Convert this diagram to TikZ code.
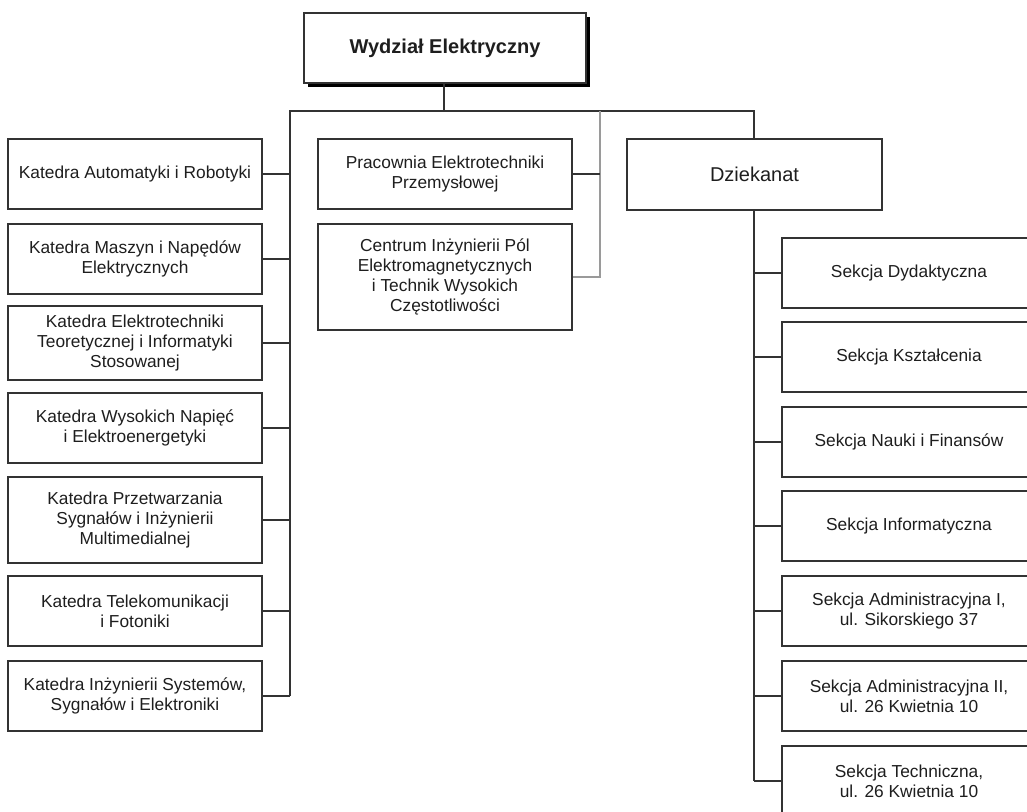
\documentclass[tikz,border=0pt]{standalone}
\usepackage{fontspec}
\setmainfont{Liberation Sans}
\definecolor{linec}{HTML}{333333}
\definecolor{textc}{HTML}{1E1E1E}
\definecolor{greyc}{HTML}{9A9A9A}
\begin{document}
\begin{tikzpicture}[x=0.75pt,y=-0.75pt,
  box/.style={draw=linec,line width=1pt,fill=white,rectangle,inner sep=2pt,align=center,
    text=textc,font=\fontsize{13}{15}\selectfont},
  lbox/.style={box,minimum width=254*0.75pt,minimum height=70*0.75pt},
  rbox/.style={box,minimum width=254*0.75pt,minimum height=70*0.75pt},
  conn/.style={draw=linec,line width=1pt},
  gconn/.style={draw=greyc,line width=1pt}]
\clip (0,0) rectangle (1027,811);
\fill[white] (0,0) rectangle (1027,811);

% top
\fill[black] (308,17) rectangle (590,87);
\node[box,minimum width=282*0.75pt,minimum height=70*0.75pt,font=\fontsize{15}{18}\bfseries\selectfont] (top) at (445,48) {Wydział Elektryczny};

% bus coordinates
\coordinate (bl) at (290,111);
\coordinate (bm) at (444,111);
\coordinate (bg) at (600,111);
\coordinate (br) at (754,111);

% left column
\node[lbox] (l1) at (135,174) {Katedra Automatyki i Robotyki};
\node[lbox] (l2) at (135,259) {Katedra Maszyn i Napędów\\Elektrycznych};
\node[lbox,minimum height=74*0.75pt] (l3) at (135,343) {Katedra Elektrotechniki\\Teoretycznej i Informatyki\\Stosowanej};
\node[lbox] (l4) at (135,428) {Katedra Wysokich Napięć\\i Elektroenergetyki};
\node[lbox,minimum height=86*0.75pt] (l5) at (135,520) {Katedra Przetwarzania\\Sygnałów i Inżynierii\\Multimedialnej};
\node[lbox] (l6) at (135,611) {Katedra Telekomunikacji\\i Fotoniki};
\node[lbox] (l7) at (135,696) {Katedra Inżynierii Systemów,\\Sygnałów i Elektroniki};

% middle
\node[lbox] (m1) at (445,174) {Pracownia Elektrotechniki\\Przemysłowej};
\node[lbox,minimum height=106*0.75pt] (m2) at (445,277) {Centrum Inżynierii Pól\\Elektromagnetycznych\\i Technik Wysokich\\Częstotliwości};

% dziekanat
\node[box,minimum width=255*0.75pt,minimum height=71*0.75pt,font=\fontsize{15}{18}\selectfont] (dz) at (754.5,174.5) {Dziekanat};

% right column
\node[rbox] (r1) at (909,273) {Sekcja Dydaktyczna};
\node[rbox] (r2) at (909,357) {Sekcja Kształcenia};
\node[rbox] (r3) at (909,442) {Sekcja Nauki i Finansów};
\node[rbox] (r4) at (909,526) {Sekcja Informatyczna};
\node[rbox] (r5) at (909,611) {Sekcja Administracyjna I,\\ul. Sikorskiego 37};
\node[rbox] (r6) at (909,696) {Sekcja Administracyjna II,\\ul. 26 Kwietnia 10};
\node[rbox] (r7) at (909,781) {Sekcja Techniczna,\\ul. 26 Kwietnia 10};

% connectors
\draw[conn] (top.south -| bm) -- (bm);
\draw[conn] (l7.east -| bl) -- (bl) -- (br) -- (br |- dz.north);
\foreach \n in {l1,l2,l3,l4,l5,l6,l7}{
  \draw[conn] (\n.east) -- (\n.east -| bl);
}
\draw[gconn] (bg) -- (bg |- m2.east) -- (m2.east);
\draw[conn] (m1.east) -- (m1.east -| bg);
\draw[conn] (dz.south -| br) -- (r7.west -| br);
\foreach \n in {r1,r2,r3,r4,r5,r6,r7}{
  \draw[conn] (\n.west) -- (\n.west -| br);
}
\end{tikzpicture}
\end{document}
